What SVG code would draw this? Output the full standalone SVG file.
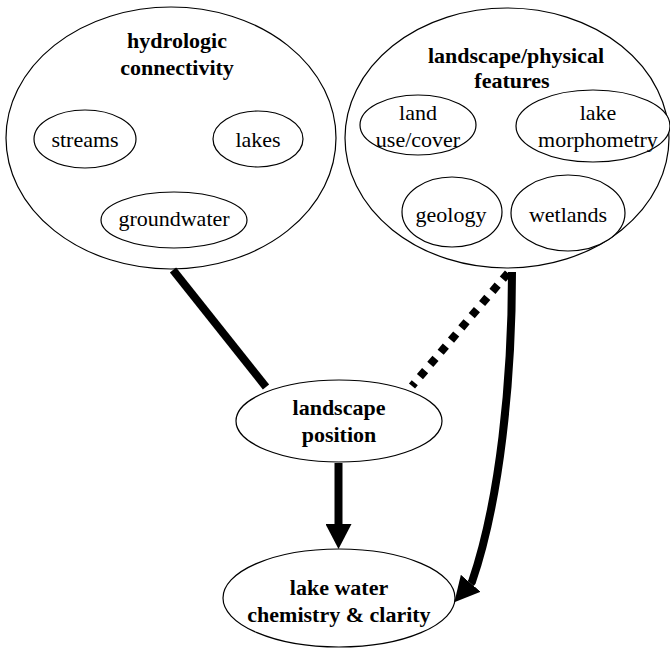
<svg xmlns="http://www.w3.org/2000/svg" width="670" height="648" viewBox="0 0 670 648">
<style>
  .node { fill: #fff; stroke: #000; stroke-width: 1.2; }
  .t { font-family: 'Liberation Serif', 'DejaVu Serif', serif; font-size: 22px; fill: #000; text-anchor: middle; }
  .b { font-weight: bold; }
  .edge { fill: none; stroke: #000; stroke-width: 8; }
  .dot { stroke-dasharray: 8 8; }
</style>
<defs>
  <marker id="arrow" markerUnits="userSpaceOnUse" markerWidth="25" markerHeight="26" refX="0" refY="13" orient="auto" viewBox="0 0 25 26">
    <path d="M0,0 L25,13 L0,26 z" fill="#000"/>
  </marker>
</defs>
<rect width="670" height="648" fill="#fff"/>
<g id="hydrologic-connectivity">
  <ellipse class="node" cx="171" cy="138" rx="165" ry="131"/>
  <text class="t b" x="177" y="48">hydrologic</text>
  <text class="t b" x="177" y="75">connectivity</text>
</g>
<g id="streams">
  <ellipse class="node" cx="85" cy="139" rx="51" ry="29"/>
  <text class="t" x="85" y="147">streams</text>
</g>
<g id="lakes">
  <ellipse class="node" cx="258" cy="139" rx="45" ry="28"/>
  <text class="t" x="258" y="147">lakes</text>
</g>
<g id="groundwater">
  <ellipse class="node" cx="174" cy="220" rx="73" ry="28"/>
  <text class="t" x="174" y="226">groundwater</text>
</g>
<g id="landscape-physical-features">
  <ellipse class="node" cx="507" cy="138" rx="162" ry="130"/>
  <text class="t b" x="516" y="63">landscape/physical</text>
  <text class="t b" x="512" y="88">features</text>
</g>
<g id="land-use-cover">
  <ellipse class="node" cx="418" cy="125" rx="58" ry="30"/>
  <text class="t" x="418" y="120">land</text>
  <text class="t" x="418" y="147">use/cover</text>
</g>
<g id="lake-morphometry">
  <ellipse class="node" cx="593" cy="126" rx="77" ry="36"/>
  <text class="t" x="598" y="120">lake</text>
  <text class="t" x="598" y="147">morphometry</text>
</g>
<g id="geology">
  <ellipse class="node" cx="452" cy="212" rx="50" ry="35"/>
  <text class="t" x="451" y="222">geology</text>
</g>
<g id="wetlands">
  <ellipse class="node" cx="568" cy="213" rx="57" ry="38"/>
  <text class="t" x="568" y="222">wetlands</text>
</g>
<g id="connectors">
  <line class="edge" x1="173" y1="270" x2="266" y2="387"/>
  <line class="edge dot" x1="508" y1="273" x2="412" y2="386"/>
  <path class="edge" d="M512 272 C512 380 500 500 472 581.8 L470.7 583.3" marker-end="url(#arrow)"/>
  <line class="edge" x1="338.5" y1="463" x2="338.5" y2="524" marker-end="url(#arrow)"/>
</g>
<g id="landscape-position">
  <ellipse class="node" cx="339" cy="421" rx="103" ry="41"/>
  <text class="t b" x="339" y="415">landscape</text>
  <text class="t b" x="339" y="442">position</text>
</g>
<g id="lake-water">
  <ellipse class="node" cx="339" cy="598" rx="116" ry="49"/>
  <text class="t b" x="339" y="595">lake water</text>
  <text class="t b" x="339" y="622">chemistry &amp; clarity</text>
</g>
</svg>
